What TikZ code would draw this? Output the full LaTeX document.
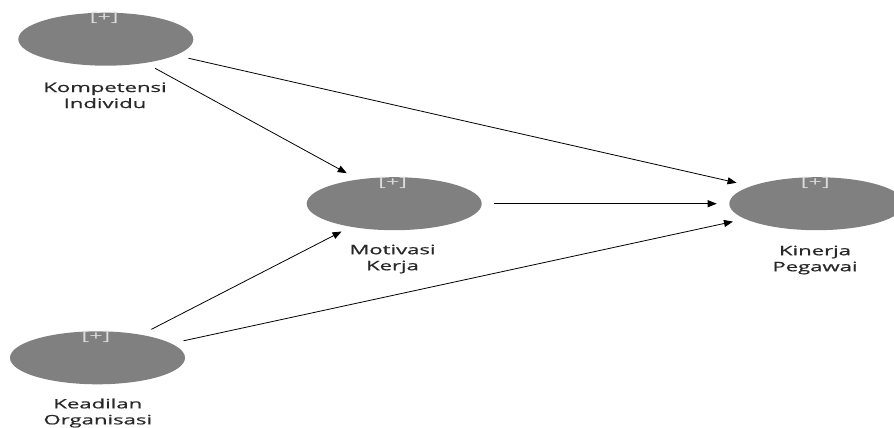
\documentclass[tikz,border=0pt]{standalone}
\usepackage{graphicx}
\usepackage{fontspec}
\setmainfont{Open Sans}
\newfontfamily\lblfont[FakeBold=0.6]{Open Sans}
\usetikzlibrary{arrows.meta,shapes.geometric}
\definecolor{lvgray}{RGB}{128,128,128}
\definecolor{plusgray}{RGB}{220,220,220}
\definecolor{txtgray}{RGB}{40,40,40}
\newcommand\stretchtxt[1]{\scalebox{1.7}[1]{#1}}
\begin{document}
\begin{tikzpicture}[x=1pt,y=-1pt,
  lv/.style={ellipse, fill=lvgray, minimum width=175pt, minimum height=53pt, inner sep=0pt, outer sep=0pt},
  lbl/.style={align=center, inner sep=0pt, text=txtgray, font=\lblfont\fontsize{13}{16}\selectfont},
  plus/.style={inner sep=0pt, text=plusgray, font=\fontsize{13}{13}\selectfont},
  arr/.style={draw=black, line width=0.8pt, -{Triangle[length=9pt,width=7pt]}}]
\useasboundingbox (0,0) rectangle (894,428);
% latent variables
\node[lv] (kom) at (105.8,39.2) {};
\node[lv] (mot) at (394.2,203.7) {};
\node[lv] (kin) at (816.8,203.7) {};
\node[lv] (kea) at (97.5,357.8) {};
% [+] markers
\node[plus] (komp) at ([xshift=-1.5pt,yshift=-5.5pt]kom.north) {\scalebox{1.8}[1]{[+]}};
\node[plus] (motp) at ([xshift=-1.5pt,yshift=-5.5pt]mot.north) {\scalebox{1.8}[1]{[+]}};
\node[plus] (kinp) at ([xshift=-1.5pt,yshift=-5.5pt]kin.north) {\scalebox{1.8}[1]{[+]}};
\node[plus] (keap) at ([xshift=-1.5pt,yshift=-5.5pt]kea.north) {\scalebox{1.8}[1]{[+]}};
% labels
\node[lbl] (komlbl) at (105,95.3) {\stretchtxt{Kompetensi}\\\stretchtxt{Individu}};
\node[lbl] (motlbl) at (392.5,259) {\stretchtxt{Motivasi}\\\stretchtxt{Kerja}};
\node[lbl] (kinlbl) at (815,260) {\stretchtxt{Kinerja}\\\stretchtxt{Pegawai}};
\node[lbl] (kealbl) at (97.8,413) {\stretchtxt{Keadilan}\\\stretchtxt{Organisasi}};
% paths
\draw[arr, shorten <=11.3pt, shorten >=13.2pt] (kom.-31.05) -- (mot.146.7);
\draw[arr, shorten <=13.4pt, shorten >=15.1pt] (kom.-13.06) -- (kin.165.76);
\draw[arr, shorten <=12.3pt, shorten >=12.6pt] (mot.east) -- (kin.west);
\draw[arr, shorten <=11.9pt, shorten >=10.5pt] (kea.28.3) -- (mot.208.9);
\draw[arr, shorten <=12.7pt, shorten >=12.5pt] (kea.11.91) -- (kin.192.18);
\end{tikzpicture}
\end{document}
